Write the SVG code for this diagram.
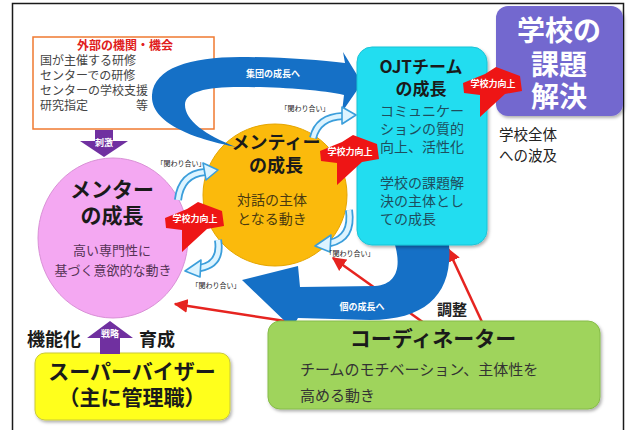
<svg xmlns="http://www.w3.org/2000/svg" width="633" height="430" viewBox="0 0 633 430">
<style>
text{font-family:"Noto Sans CJK JP","Noto Sans",sans-serif;}
.b{font-weight:bold;}
.kw{font-size:7px;fill:#222;text-anchor:middle;}
.sk{font-size:9px;fill:#fff;font-weight:bold;text-anchor:middle;}
.red{fill:#EE1515;}
.lb1{fill:none;stroke:#3B9EDB;stroke-width:8;stroke-linecap:butt;}
.lb2{fill:none;stroke:#DDF4FF;stroke-width:4.5;stroke-linecap:butt;}
.lbh{fill:#DDF4FF;stroke:#3B9EDB;stroke-width:1.6;stroke-linejoin:round;}
.rl{stroke:#E62420;stroke-width:2.5;fill:none;marker-end:url(#ra);}
</style>
<defs>
<marker id="ra" viewBox="0 0 10 10" refX="9" refY="5" markerWidth="14" markerHeight="14" markerUnits="userSpaceOnUse" orient="auto">
<path d="M0,0 L10,5 L0,10 Z" fill="#E62420"/>
</marker>
<filter id="sh" x="-10%" y="-10%" width="125%" height="130%">
<feDropShadow dx="1.5" dy="2" stdDeviation="1.5" flood-color="#000" flood-opacity="0.3"/>
</filter>
<path id="burst" d="M-30,-1 L-8,-10 L3,-17 L27,-8 L29,7 L12,10 L-13,33 L-13,11 L-29,9 Z"/>
</defs>

<rect x="0" y="0" width="633" height="430" fill="#fff"/>
<rect x="12.5" y="3.5" width="611" height="440" fill="#fff" stroke="#1a1a1a" stroke-width="1.5"/>

<g id="external">
<rect x="33" y="37" width="181" height="92" fill="#fff" stroke="#F07A30" stroke-width="1.5"/>
<text x="125" y="50" class="b" font-size="12" fill="#E02020" text-anchor="middle">外部の機関・機会</text>
<text font-size="12" fill="#444"><tspan x="40" y="65">国が主催する研修</tspan><tspan x="40" y="80">センターでの研修</tspan><tspan x="40" y="95">センターの学校支援</tspan><tspan x="40" y="110">研究指定　　　　等</tspan></text>
</g>

<g id="connectors">
<line class="rl" x1="318" y1="326" x2="175" y2="304"/>
<line class="rl" x1="424" y1="323" x2="333" y2="258"/>
<line class="rl" x1="482" y1="322" x2="448" y2="249"/>
<text x="452" y="315" class="b" font-size="15" fill="#222" text-anchor="middle">調整</text>
</g>

<g id="mentor">
<ellipse cx="113" cy="238" rx="75" ry="80" fill="#F4A8F2" stroke="#D990D6" stroke-width="1"/>
<text class="b" font-size="21" fill="#1a1a1a" text-anchor="middle"><tspan x="112" y="197">メンター</tspan><tspan x="112" y="223">の成長</tspan></text>
<text font-size="13" fill="#553355" text-anchor="middle"><tspan x="112" y="255">高い専門性に</tspan><tspan x="113" y="275">基づく意欲的な動き</tspan></text>
</g>

<g id="mentee">
<ellipse cx="275" cy="195" rx="72" ry="71" fill="#FBBA0C" stroke="#E5A500" stroke-width="1"/>
<text class="b" font-size="18" fill="#1a1a1a" text-anchor="middle"><tspan x="276" y="149">メンティー</tspan><tspan x="276" y="172">の成長</tspan></text>
<text font-size="14" fill="#4A3A10" text-anchor="middle"><tspan x="272" y="205">対話の主体</tspan><tspan x="272" y="224">となる動き</tspan></text>
</g>

<g id="group-growth">
<path d="M236,147 C200,140 150,125 152,95 C154,68 190,57 240,57 C280,57 320,60 345,63 L343,52 L362,83 L342,112 L344,95 C320,90 280,87 240,87 C205,87 185,92 185,105 C185,120 205,135 236,147 Z" fill="#1570C6"/>
<text x="273" y="77" class="sk" font-size="9.5">集団の成長へ</text>
</g>

<g id="individual-growth">
<path d="M392,236 C402,262 400,284 375,286 L300,287 L298,266 L242,280 L292,328 L298,318 L370,320 C430,320 456,290 448,236 Z" fill="#1570C6"/>
<text x="362" y="310" class="sk" font-size="9.5">個の成長へ</text>
</g>

<g id="ojt">
<rect x="357" y="47" width="130" height="198" rx="15" fill="#22DDF0" stroke="#1CC3D6" stroke-width="1" filter="url(#sh)"/>
<text class="b" font-size="17" fill="#1a1a1a" text-anchor="middle"><tspan x="421" y="73">OJTチーム</tspan><tspan x="421" y="95">の成長</tspan></text>
<text font-size="14" fill="#1E4E5E"><tspan x="380" y="116">コミュニケー</tspan><tspan x="380" y="134">ションの質的</tspan><tspan x="380" y="152">向上、活性化</tspan><tspan x="380" y="188">学校の課題解</tspan><tspan x="380" y="206">決の主体とし</tspan><tspan x="380" y="224">ての成長</tspan></text>
</g>

<g id="school">
<rect x="496" y="6" width="127" height="110" rx="12" fill="#7367CF" filter="url(#sh)"/>
<text class="b" font-size="28" fill="#fff" text-anchor="middle"><tspan x="559" y="41">学校の</tspan><tspan x="559" y="75">課題</tspan><tspan x="559" y="107">解決</tspan></text>
<text font-size="14.5" fill="#222"><tspan x="499" y="140">学校全体</tspan><tspan x="499" y="161">への波及</tspan></text>
</g>

<g id="coordinator">
<rect x="268" y="321" width="332" height="88" rx="12" fill="#9FD45C" stroke="#86BC48" stroke-width="1" filter="url(#sh)"/>
<text x="433" y="346" class="b" font-size="21" fill="#1a1a1a" text-anchor="middle">コーディネーター</text>
<text font-size="15" fill="#333"><tspan x="300" y="375">チームのモチベーション、主体性を</tspan><tspan x="300" y="401">高める動き</tspan></text>
</g>

<g id="supervisor">
<rect x="35" y="353" width="195" height="67" rx="10" fill="#FFFF1E" stroke="#C9C93A" stroke-width="1" filter="url(#sh)"/>
<text class="b" font-size="21" fill="#1a1a1a" text-anchor="middle"><tspan x="132" y="379">スーパーバイザー</tspan><tspan x="132" y="405">（主に管理職）</tspan></text>
</g>

<g id="stimulus-arrow">
<polygon points="95,130 113,130 113,141 128,141 104,157 80,141 95,141" fill="#7030A0"/>
<text x="104" y="146" class="sk" font-size="8">刺激</text>
</g>

<g id="strategy-arrow">
<polygon points="110,321 133,338 120,338 120,354 100,354 100,338 87,338" fill="#7030A0"/>
<text x="110" y="337" class="sk" font-size="7">戦略</text>
<text x="54" y="346" class="b" font-size="18" fill="#1a1a1a" text-anchor="middle">機能化</text>
<text x="157" y="346" class="b" font-size="18" fill="#1a1a1a" text-anchor="middle">育成</text>
</g>

<g id="relations">
<path class="lb1" d="M178,200 Q181,174 205,172"/>
<path class="lb2" d="M178,200 Q181,174 205,172"/>
<polygon class="lbh" points="203,163 218,170 206,180"/>
<text x="181" y="166" class="kw">「関わり合い」</text>

<path class="lb1" d="M313,138 Q318,117 343,116"/>
<path class="lb2" d="M313,138 Q318,117 343,116"/>
<polygon class="lbh" points="342,107 356,115 342,124"/>
<text x="305" y="111" class="kw">「関わり合い」</text>

<path class="lb1" d="M218,240 Q222,264 200,268"/>
<path class="lb2" d="M218,240 Q222,264 200,268"/>
<polygon class="lbh" points="201,260 185,271 200,277"/>
<text x="216" y="288" class="kw">「関わり合い」</text>

<path class="lb1" d="M349,210 Q353,238 330,243"/>
<path class="lb2" d="M349,210 Q353,238 330,243"/>
<polygon class="lbh" points="331,235 315,246 330,252"/>
<text x="350" y="256" class="kw">「関わり合い」</text>
</g>

<g id="boost-ojt-school">
<use href="#burst" transform="translate(493,84)" class="red"/>
<text x="493" y="87" class="sk" font-size="8.5">学校力向上</text>
</g>
<g id="boost-mentee-ojt">
<use href="#burst" transform="translate(350,152)" class="red"/>
<text x="350" y="155" class="sk" font-size="8.5">学校力向上</text>
</g>
<g id="boost-mentor-mentee">
<use href="#burst" transform="translate(195,219)" class="red"/>
<text x="195" y="222" class="sk" font-size="8.5">学校力向上</text>
</g>
</svg>
